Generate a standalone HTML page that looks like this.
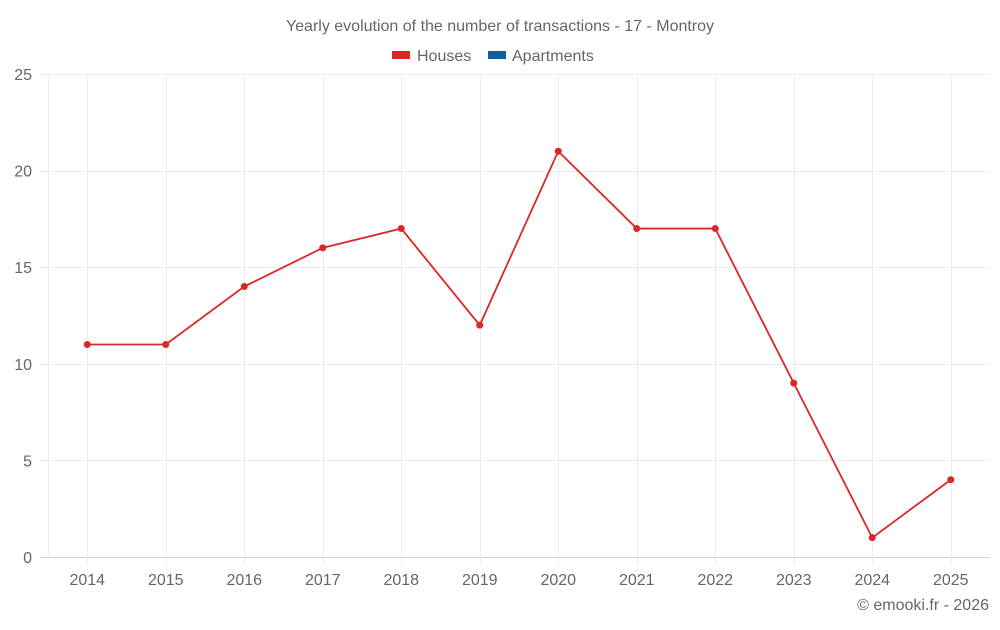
<!DOCTYPE html>
<html><head><meta charset="utf-8"><style>
body{margin:0;background:#fff;font-family:"Liberation Sans",sans-serif;}
svg text{font-family:"Liberation Sans",sans-serif;fill:#666;}
</style></head><body>
<svg id="chart" width="1000" height="625">
<text x="500" y="31" text-anchor="middle" font-size="16">Yearly evolution of the number of transactions - 17 - Montroy</text>
<g>
<g><rect x="392" y="51" width="18" height="8" fill="#dc2626"/><text x="417" y="61" font-size="16">Houses</text></g>
<g><rect x="488" y="51" width="18" height="8" fill="#0f5f9c"/><text x="512" y="61" font-size="16">Apartments</text></g>
</g>
<g id="grid"></g><g id="axes"></g><g id="series"></g>
<text x="989" y="610" text-anchor="end" font-size="16">© emooki.fr - 2026</text>
</svg>
<script>
const categories=["2014","2015","2016","2017","2018","2019","2020","2021","2022","2023","2024","2025"];
const houses=[11,11,14,16,17,12,21,17,17,9,1,4];
const yTicks=[0,5,10,15,20,25];
const NS="http://www.w3.org/2000/svg";
const L=48,R=990,T=74,B=557,yMax=25;
const bw=(R-L)/categories.length;
function x(i){return L+bw*(i+0.5);}
function y(v){return B-(v/yMax)*(B-T);}
function mk(tag,attrs,parent){const e=document.createElementNS(NS,tag);for(const k in attrs)e.setAttribute(k,attrs[k]);parent.appendChild(e);return e;}
const grid=document.getElementById('grid'),axes=document.getElementById('axes'),ser=document.getElementById('series');
const lv=mk('line',{x1:L+0.5,x2:L+0.5,y1:T,y2:B,stroke:'#ececec'},grid);


yTicks.forEach(v=>{
 const yy=Math.round(y(v))+0.5;
 const l=mk('line',{x1:40,x2:R,y1:yy,y2:yy,stroke:v===0?'#d4d4d4':'#ececec'},grid);
 
 
 const t=mk('text',{x:32,y:y(v)+6,'text-anchor':'end','font-size':16},axes);t.textContent=v;
 
 
});
categories.forEach((c,i)=>{
 const xx=Math.round(x(i))+0.5;
 const l=mk('line',{x1:xx,x2:xx,y1:T,y2:565,stroke:'#ececec'},grid);
 
 
 const t=mk('text',{x:x(i),y:585,'text-anchor':'middle','font-size':16},axes);t.textContent=c;
 
 
});
const p=mk('polyline',{points:houses.map((v,i)=>x(i)+','+y(v)).join(' '),fill:'none',stroke:'#dc2626','stroke-width':1.8},ser);


houses.forEach((v,i)=>{
 const c=mk('circle',{cx:x(i),cy:y(v),r:3.5,fill:'#dc2626'},ser);
 
 
});
</script>
</body></html>
